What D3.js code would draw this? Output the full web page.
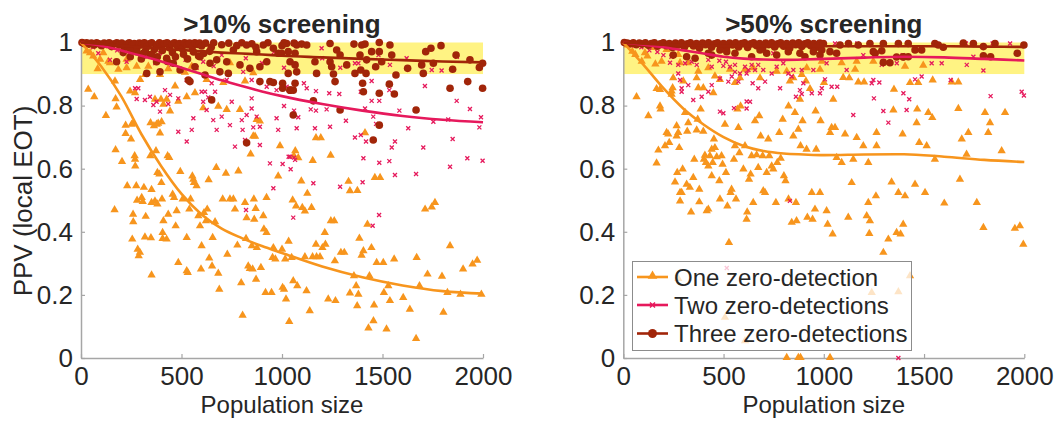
<!DOCTYPE html>
<html>
<head>
<meta charset="utf-8">
<script src="https://cdn.jsdelivr.net/npm/d3@7"></script>
<style>
body { margin: 0; background: #fff; }
text { font-family: "Liberation Sans", Arial, sans-serif; fill: #262626; }
</style>
</head>
<body>
<svg id="chart" width="1061" height="421"></svg>
<script>
// x ticks / y ticks
var xTicks = [0, 500, 1000, 1500, 2000];
var yTicks = [0, 0.2, 0.4, 0.6, 0.8, 1];
var titles = [">10% screening", ">50% screening"];
var seriesNames = ["One zero-detection", "Two zero-detections", "Three zero-detections"];

// fitted curves
var fitX = [0, 100, 200, 300, 400, 500, 600, 700, 800, 900, 1000, 1200, 1400, 1600, 1800, 2000];
var fitOne10 = [1.0, 0.925, 0.83, 0.71, 0.607, 0.52, 0.455, 0.41, 0.38, 0.355, 0.333, 0.29, 0.256, 0.23, 0.212, 0.204];
var fitTwo10 = [1.0, 0.99, 0.975, 0.958, 0.94, 0.92, 0.9, 0.88, 0.862, 0.845, 0.83, 0.805, 0.784, 0.767, 0.755, 0.747];
var fitThree10 = [1.0, 0.995, 0.99, 0.985, 0.98, 0.976, 0.972, 0.968, 0.965, 0.962, 0.958, 0.953, 0.948, 0.944, 0.94, 0.937];
var fitOne50 = [1.0, 0.93, 0.855, 0.79, 0.74, 0.7, 0.672, 0.656, 0.648, 0.645, 0.643, 0.645, 0.646, 0.638, 0.628, 0.621];
var fitTwo50 = [1.0, 0.993, 0.985, 0.975, 0.965, 0.955, 0.949, 0.946, 0.945, 0.946, 0.948, 0.952, 0.955, 0.953, 0.948, 0.943];
var fitThree50 = [1.0, 0.996, 0.993, 0.991, 0.99, 0.989, 0.988, 0.988, 0.988, 0.988, 0.988, 0.988, 0.988, 0.988, 0.987, 0.986];

// scatter, >10% screening
var one10 = [[36,0.85],[66,0.826],[124,0.767],[172,0.82],[177,0.794],[167,0.468],[172,0.658],[204,0.621],[222,0.736],[230,0.544],[222,0.71],[249,0.692],[252,0.739],[260,0.742],[259,0.454],[260,0.43],[255,0.375],[267,0.639],[269,0.628],[270,0.607],[275,0.544],[279,0.498],[282,0.343],[287,0.322],[293,0.333],[302,0.507],[307,0.494],[313,0.539],[322,0.447],[318,0.382],[345,0.639],[346,0.744],[351,0.532],[351,0.491],[348,0.379],[351,0.261],[363,0.734],[376,0.739],[384,0.742],[401,0.747],[393,0.711],[373,0.655],[380,0.586],[390,0.581],[400,0.554],[403,0.502],[368,0.496],[380,0.486],[410,0.433],[406,0.396],[406,0.377],[426,0.375],[434,0.454],[439,0.634],[431,0.639],[456,0.517],[463,0.507],[476,0.465],[471,0.417],[484,0.301],[494,0.589],[506,0.502],[531,0.269],[526,0.275],[526,0.38],[539,0.47],[545,0.502],[554,0.575],[559,0.565],[562,0.554],[575,0.544],[584,0.449],[592,0.417],[597,0.28],[600,0.354],[612,0.459],[622,0.433],[628,0.47],[635,0.563],[638,0.315],[652,0.29],[655,0.38],[673,0.602],[683,0.267],[688,0.216],[667,0.43],[705,0.502],[721,0.584],[728,0.327],[741,0.502],[758,0.502],[766,0.47],[778,0.356],[783,0.591],[797,0.237],[804,0.134],[816,0.491],[824,0.443],[821,0.377],[832,0.29],[840,0.282],[844,0.645],[850,0.354],[854,0.28],[857,0.702],[860,0.502],[862,0.438],[869,0.472],[871,0.248],[875,0.348],[895,0.285],[907,0.449],[910,0.407],[918,0.206],[923,0.507],[923,0.396],[948,0.206],[953,0.317],[957,0.348],[967,0.312],[981,0.575],[990,0.671],[1000,0.343],[1003,0.222],[1010,0.216],[1016,0.312],[1020,0.185],[1036,0.114],[1033,0.368],[1048,0.317],[1056,0.243],[1059,0.639],[1066,0.655],[1053,0.499],[1076,0.227],[1096,0.559],[1101,0.475],[1114,0.319],[1122,0.211],[1138,0.148],[1147,0.475],[1152,0.319],[1169,0.359],[1172,0.319],[1189,0.319],[1201,0.348],[1213,0.396],[1216,0.359],[1230,0.185],[1243,0.433],[1260,0.433],[1263,0.306],[1266,0.18],[1169,0.696],[1293,0.333],[1310,0.333],[1331,0.558],[1338,0.528],[1338,0.204],[1358,0.259],[1369,0.227],[1374,0.164],[1380,0.2],[1385,0.378],[1396,0.324],[1405,0.338],[1425,0.422],[1430,0.093],[1435,0.259],[1445,0.348],[1455,0.116],[1458,0.166],[1462,0.57],[1471,0.301],[1504,0.301],[1507,0.206],[1520,0.09],[1529,0.227],[1537,0.18],[1558,0.312],[1603,0.19],[1636,0.153],[1670,0.317],[1667,0.06],[1684,0.227],[1712,0.47],[1724,0.264],[1761,0.491],[1796,0.257],[1803,0.143],[1823,0.206],[1836,0.354],[1888,0.2],[1901,0.28],[1948,0.296],[1971,0.308],[1992,0.2],
    [83,0.915],[95,0.945],[136,0.939],[169,0.876],[244,0.844],[269,0.839],[294,0.881],[335,0.923],[318,0.897],[393,0.897],[434,0.915],[368,0.818],[398,0.818],[410,0.802],[426,0.818],[468,0.86],[517,0.904],[551,0.923],[567,0.839],[443,0.781],[484,0.812],[526,0.826],[608,0.791],[625,0.881],[683,0.796],[708,0.871],[725,0.786],[741,0.934],[816,0.876],[857,0.902],[791,0.786],[874,0.754],[890,0.749],[866,0.701],[28,0.971],[45,0.966],[61,0.955],[111,0.966],[144,0.934],[186,0.913],[227,0.945],[227,0.918],[277,0.923],
    [1081,0.633],[1153,0.624],[1193,0.696],[1242,0.641],[1375,0.529],[1488,0.57],[1413,0.712],[1126,0.52],[1070,0.48],[1114,0.464],[1745,0.477]];

var two10 = [[86,0.966],[144,0.945],[227,0.939],[269,0.855],[285,0.855],[277,0.821],[318,0.818],[343,0.828],[360,0.802],[376,0.812],[393,0.781],[418,0.849],[443,0.834],[434,0.805],[484,0.823],[484,0.717],[526,0.686],[551,0.723],[559,0.76],[600,0.844],[617,0.844],[608,0.812],[633,0.826],[625,0.786],[667,0.844],[658,0.754],[675,0.723],[700,0.765],[741,0.738],[750,0.812],[766,0.67],[800,0.754],[804,0.723],[816,0.691],[849,0.823],[849,0.791],[824,0.77],[874,0.765],[890,0.733],[857,0.731],[890,0.675],[940,0.617],[973,0.76],[981,0.723],[1040,0.638],[1065,0.628],[957,0.538],[526,0.881],[650,0.871],[725,0.881],[849,0.881],[924,0.86],[973,0.849],[1023,0.86],[807,0.907],[608,0.939],[294,0.966],[393,0.966],[468,0.95],[551,0.971],
    [1065,1.0],[1197,0.982],[1363,0.934],[1380,0.934],[1537,0.929],[1745,0.913],[1794,0.911],[1123,0.855],[1006,0.871],[1109,0.871],[1169,0.846],[1235,0.839],[1285,0.837],[1446,0.878],[1392,0.844],[1446,0.815],[1484,0.815],[1534,0.849],[1711,0.862],[1869,0.815],[1935,0.789],[1990,0.763],[1982,0.731],[1010,0.799],[1060,0.784],[1081,0.763],[1143,0.788],[1169,0.784],[1222,0.788],[1318,0.752],[1413,0.791],[1454,0.765],[1468,0.742],[1584,0.784],[1628,0.728],[1753,0.749],[1827,0.756],[1849,0.694],[1073,0.728],[1164,0.728],[1239,0.733],[1363,0.699],[1392,0.707],[1418,0.686],[1562,0.686],[1703,0.667],[1546,0.667],[1033,0.638],[1060,0.635],[1003,0.615],[1043,0.598],[1405,0.633],[1484,0.619],[1534,0.624],[1562,0.58],[1667,0.583],[1836,0.606],[1922,0.633],[1998,0.625],[1156,0.554],[1289,0.543],[1401,0.557],[1056,0.445],[1483,0.453],[1451,0.419],[821,0.469],
    [30,0.99],[60,0.985],[180,0.975],[330,0.955],[370,0.935],[450,0.93],[520,0.945],[575,0.92],[660,0.925],[700,0.96],[820,0.95],[900,0.935],[960,0.97],[1010,0.92],[1200,0.95],[1290,0.92],[1480,0.96],[1620,0.95],[1870,0.955]];

var three10 = [[5,1.0],[15,0.997],[28,0.999],[40,0.995],[52,0.998],[65,0.992],[78,0.999],[90,0.996],[102,0.99],[115,0.998],[128,0.994],[140,0.999],[152,0.987],[165,0.996],[178,0.999],[190,0.992],[203,0.998],[215,0.985],[228,0.995],[240,0.999],[252,0.99],[265,0.997],[278,0.982],[290,0.998],[302,0.993],[315,0.999],[327,0.986],[340,0.996],[352,0.999],[365,0.978],[377,0.993],[390,0.999],[402,0.988],[415,0.997],[428,0.999],[440,0.983],[452,0.995],[465,0.999],[478,0.99],[490,0.997],[502,0.981],[515,0.999],[528,0.992],[540,0.998],[553,0.985],[566,0.999],[578,0.994],[590,0.998],[600,0.989],
    [620,0.998],[648,0.985],[660,0.999],[700,0.993],[735,0.998],[775,0.99],[800,0.999],[850,0.996],[870,0.985],[930,0.999],[1000,0.99],[1060,0.998],
    [210,0.968],[245,0.955],[262,0.975],[300,0.948],[320,0.972],[345,0.962],[380,0.955],[405,0.975],[430,0.94],[455,0.968],[470,0.955],[510,0.963],[530,0.948],[560,0.97],[585,0.957],[610,0.965],[640,0.972],
    [177,0.939],[327,0.902],[393,0.907],[534,0.881],[542,0.876],[617,0.897],[650,0.818],[733,0.902],[824,0.682],[890,0.876],[940,0.876],[957,0.873],[1003,0.871],[1040,0.849],[1056,0.77],[890,0.923],[924,0.939],[981,0.966],[1023,0.997],[791,0.929],[840,0.918],[725,0.939],[758,0.976],[824,0.992],[874,0.971],[907,0.992],[957,0.982],[675,0.945],[691,0.907],[642,0.934],[592,0.955],[567,0.923],[493,0.913],[459,0.934],[426,0.95],[376,0.939],[352,0.96],[310,0.966],[277,0.971],[244,0.976],
    [1010,0.999],[1073,0.992],[1098,0.995],[1123,0.992],[1031,0.971],[998,0.966],[1065,0.966],[1040,0.939],[1065,0.929],[1031,0.902],[1073,0.907],[1164,0.939],[1172,0.902],[1239,0.997],[1272,0.976],[1289,0.96],[1239,0.939],[1247,0.923],[1256,0.9],[1264,0.876],[1322,0.929],[1358,0.995],[1397,0.992],[1413,0.995],[1388,0.96],[1421,0.945],[1363,0.902],[1392,0.913],[1418,0.902],[1446,0.971],[1484,1.0],[1484,0.971],[1466,0.923],[1496,0.939],[1537,0.992],[1546,0.96],[1567,0.897],[1625,0.918],[1695,0.929],[1715,0.971],[1741,0.982],[1791,0.99],[1703,0.902],[1753,0.934],[1849,0.915],[1866,0.96],[1935,0.945],[1982,0.921],[1998,0.934],[1003,0.855],[1040,0.849],[1056,0.849],[1065,0.871],[1156,0.815],[1401,0.871],[1405,0.844],[1484,0.839],[1534,0.868],[1559,0.837],[1289,0.786],[1484,0.738],[1454,0.691],[1667,0.786],[1836,0.855],[1924,0.876],[1998,0.855]];

// scatter, >50% screening
var one50 = [[66,0.826],[125,0.766],[166,0.616],[175,0.657],[166,0.852],[183,0.797],[186,0.787],[208,0.671],[216,0.713],[224,0.708],[229,0.681],[246,0.855],[241,0.834],[258,0.556],[266,0.734],[269,0.586],[266,0.702],[274,0.713],[279,0.665],[283,0.523],[283,0.496],[291,0.523],[296,0.597],[308,0.776],[316,0.549],[319,0.717],[324,0.744],[332,0.539],[338,0.461],[349,0.57],[354,0.628],[366,0.721],[371,0.755],[374,0.855],[379,0.533],[379,0.493],[386,0.787],[399,0.717],[402,0.628],[407,0.641],[412,0.618],[416,0.465],[424,0.47],[424,0.607],[432,0.639],[441,0.66],[446,0.618],[441,0.576],[449,0.839],[452,0.692],[457,0.665],[466,0.636],[479,0.56],[482,0.502],[490,0.639],[495,0.612],[507,0.739],[512,0.586],[519,0.48],[527,0.364],[535,0.523],[540,0.533],[552,0.628],[557,0.671],[562,0.502],[569,0.787],[574,0.729],[579,0.649],[585,0.797],[599,0.597],[607,0.671],[615,0.438],[618,0.461],[627,0.565],[635,0.581],[640,0.639],[648,0.491],[657,0.75],[665,0.642],[673,0.602],[678,0.766],[685,0.702],[695,0.639],[698,0.528],[707,0.523],[715,0.586],[723,0.692],[728,0.639],[740,0.607],[748,0.597],[761,0.491],[768,0.618],[778,0.713],[785,0.631],[795,0.755],[801,0.576],[809,0.56],[824,0.797],[824,0.502],[831,0.876],[840,0.428],[848,0.702],[856,0.776],[861,0.491],[864,0.433],[873,0.723],[881,0.818],[884,0.671],[894,0.75],[911,0.876],[914,0.66],[918,0.444],[931,0.852],[940,0.523],[944,0.438],[956,0.47],[959,0.781],[962,0.66],[981,0.523],[984,0.75],[1001,0.871],[1014,0.465],[1019,0.422],[1031,0.713],[1039,0.729],[1044,0.391],[1047,0.818],[1056,0.729],[1064,0.634],[1089,0.618],[1097,0.887],[1106,0.708],[1122,0.444],[1139,0.554],[1147,0.628],[1164,0.697],[1172,0.873],[1197,0.671],[1214,0.449],[1222,0.618],[1222,0.491],[1227,0.393],[1230,0.433],[1260,0.512],[1263,0.671],[1263,0.713],[1297,0.333],[1322,0.375],[1338,0.556],[1347,0.784],[1350,0.85],[1363,0.396],[1372,0.523],[1383,0.391],[1393,0.708],[1396,0.422],[1405,0.512],[1430,0.871],[1455,0.549],[1463,0.744],[1466,0.787],[1476,0.681],[1505,0.523],[1513,0.671],[1521,0.776],[1541,0.76],[1554,0.628],[1601,0.489],[1638,0.873],[1671,0.789],[1679,0.565],[1688,0.692],[1712,0.644],[1721,0.713],[1763,0.491],[1796,0.412],[1804,0.776],[1829,0.744],[1820,0.713],[1887,0.655],[1904,0.776],[1953,0.409],[1978,0.417],[1995,0.359],
    [274,0.25],[507,0.127],[1430,0.259],[1239,0.206],[1372,0.208],[607,0.053],[815,0],[873,0],[884,0],[1031,0],
    [92,0.939],[183,0.849],[191,0.939],[249,0.886],[241,0.844],[299,0.876],[324,0.934],[366,0.886],[374,0.907],[399,0.855],[424,0.918],[457,0.892],[482,0.881],[532,0.913],[557,0.871],[582,0.886],[607,0.913],[648,0.918],[682,0.886],[765,0.907],[815,0.907],[848,0.886],[890,0.897],[915,0.918],[981,0.913],[108,0.966],[150,0.982],[216,0.976],[274,0.96],[283,0.934],
    [1089,0.934],[1156,0.913],[1164,0.939],[1247,0.939],[1405,0.923],[1496,0.926],[1127,0.886],[1201,0.873],[1471,0.871],[1543,0.879],[1671,0.873],[990,0.939],
    [20,0.99],[45,0.97],[60,0.96],[120,0.955],[160,0.93]];

var two50 = [[233,0.936],[274,0.929],[308,0.934],[341,0.939],[366,0.929],[424,0.945],[441,0.923],[479,0.942],[499,0.926],[512,0.939],[532,0.923],[557,0.929],[557,0.907],[582,0.902],[607,0.923],[615,0.902],[624,0.913],[640,0.929],[657,0.913],[673,0.929],[698,0.913],[740,0.902],[748,0.966],[765,0.923],[798,0.934],[823,0.902],[848,0.913],[890,0.913],[948,0.913],[274,0.902],[283,0.881],[291,0.855],[291,0.844],[324,0.865],[349,0.818],[391,0.828],[424,0.844],[441,0.865],[482,0.781],[482,0.886],[524,0.876],[541,0.892],[574,0.876],[632,0.812],[615,0.791],[645,0.871],[673,0.855],[707,0.876],[782,0.855],[840,0.892],[861,0.828],[881,0.849],[890,0.837],[898,0.871],[940,0.839],[981,0.839],[990,0.855],
    [1006,0.883],[1039,0.86],[1067,0.86],[1114,0.913],[1197,0.96],[1239,0.871],[1247,0.881],[1277,0.873],[1289,0.929],[1364,0.934],[1397,0.839],[1426,0.82],[1455,0.883],[1488,0.892],[1538,0.934],[1588,0.934],[1633,0.881],[1713,0.929],[1796,0.911],[1832,0.83],[1987,0.844],[1998,0.832],[1250,0.823],[1297,0.783],[1147,0.77],[1413,0.786],[1322,0.746],[1056,0.997],[1014,0.934],[1167,0.997],[1393,0.96],[1709,0.997],[1842,0.997],[1929,0.997],[1746,0.955],
    [552,0.792],[499,0.776],[615,0.813],[831,0.498],[516,0.285],[1372,0],
    [40,0.99],[90,0.985],[130,0.975],[170,0.97],[200,0.96],[240,0.955]];

var three50 = [[5,1.0],[20,0.998],[35,0.996],[50,0.999],[65,0.993],[80,0.998],[95,0.995],[110,0.999],[125,0.991],[140,0.997],[155,0.999],[170,0.988],[185,0.996],[200,0.999],[215,0.99],[230,0.997],[245,0.984],[260,0.998],[275,0.992],[290,0.999],[305,0.986],[320,0.996],[335,0.999],[350,0.989],[365,0.997],[380,0.982],[395,0.998],[410,0.993],[425,0.999],[440,0.985],[455,0.996],[470,0.999],[485,0.988],[500,0.997],[515,0.983],[530,0.998],[545,0.992],[560,0.999],[575,0.986],[590,0.997],[605,0.999],[620,0.984],[635,0.996],[650,0.999],[665,0.99],[680,0.997],[695,0.982],[710,0.998],[725,0.993],[740,0.999],[755,0.986],[770,0.996],[785,0.999],[800,0.988],[815,0.997],[830,0.982],[845,0.998],[860,0.993],[875,0.999],[890,0.987],[905,0.996],[920,0.999],[935,0.99],[950,0.997],[965,0.985],[980,0.998],
    [249,0.96],[316,0.955],[358,0.95],[424,0.966],[441,0.96],[482,0.976],[516,0.971],[557,0.966],[640,0.955],[682,0.976],[715,0.966],[765,0.96],[823,0.971],[881,0.966],[906,0.955],[948,0.971],[990,0.976],
    [998,0.997],[1031,0.971],[1064,0.966],[1081,0.992],[1123,0.997],[1172,0.992],[1230,0.997],[1247,0.971],[1256,0.966],[1297,0.997],[1289,0.974],[1330,0.936],[1372,0.997],[1397,0.955],[1421,0.955],[1421,0.997],[1455,0.976],[1488,0.976],[1554,0.997],[1571,0.992],[1746,0.997],[1796,0.987],[1832,0.955],[1854,0.997],[1998,0.992],[981,0.96],[1297,0.937],[1363,0.954],[1396,0.954],[1965,0.966],[1796,0.958],[1596,0.985],[1696,0.998]];

var colOne = "#f7951d", colTwo = "#e6195c", colThree = "#a12509";
var tri = d3.symbol().type(d3.symbolTriangle).size(30);

var svg = d3.select("#chart");
var plotTop = 42.5, plotBottom = 358;

var panels = [
    {x0: 81, x1: 483, title: titles[0], one: one10, two: two10, three: three10, f1: fitOne10, f2: fitTwo10, f3: fitThree10, ylab: true},
    {x0: 623.3, x1: 1024.3, title: titles[1], one: one50, two: two50, three: three50, f1: fitOne50, f2: fitTwo50, f3: fitThree50, ylab: false}
];

panels.forEach(function(p, i) {
    var x = d3.scaleLinear().domain([0, 2000]).range([p.x0, p.x1]);
    var y = d3.scaleLinear().domain([0, 1]).range([plotBottom, plotTop]);
    var g = svg.append("g");

    // yellow band 0.9 - 1
    g.append("rect")
        .attr("x", x(0)).attr("y", y(1))
        .attr("width", x(2000) - x(0)).attr("height", y(0.9) - y(1))
        .attr("fill", "#fff383");

    // axes
    var xa = g.append("g").attr("transform", "translate(0," + plotBottom + ")")
        .call(d3.axisBottom(x).tickValues(xTicks).tickSizeInner(-4).tickSizeOuter(0).tickPadding(9)
            .tickFormat(d3.format("d")));
    var ya = g.append("g").attr("transform", "translate(" + p.x0 + ",0)")
        .call(d3.axisLeft(y).tickValues(yTicks).tickSizeInner(-4).tickSizeOuter(0).tickPadding(8)
            .tickFormat(d3.format("")));
    [xa, ya].forEach(function(a) {
        a.select(".domain").attr("stroke", "#a6a6a6").attr("stroke-width", 1.5);
        a.selectAll(".tick line").attr("stroke", "#a6a6a6").attr("stroke-width", 1.2);
        a.selectAll(".tick text").attr("font-size", 26).attr("fill", "#262626")
            .attr("font-family", "Liberation Sans, Arial, sans-serif");
    });

    // scatter
    g.append("g").selectAll("path").data(p.one).enter().append("path")
        .attr("d", tri)
        .attr("transform", d => "translate(" + x(d[0]) + "," + (y(d[1]) - 0.5) + ")")
        .attr("fill", colOne);
    g.append("g").selectAll("path").data(p.two).enter().append("path")
        .attr("d", "M-2,-2L2,2M-2,2L2,-2")
        .attr("transform", d => "translate(" + x(d[0]) + "," + y(d[1]) + ")")
        .attr("stroke", colTwo).attr("stroke-width", 1.3).attr("fill", "none");
    g.append("g").selectAll("circle").data(p.three).enter().append("circle")
        .attr("cx", d => x(d[0])).attr("cy", d => y(d[1])).attr("r", 3.8)
        .attr("fill", colThree);

    // fitted lines
    var line = d3.line().x((d, k) => x(fitX[k])).y(d => y(d)).curve(d3.curveMonotoneX);
    [[p.f1, colOne], [p.f2, colTwo], [p.f3, colThree]].forEach(function(f) {
        g.append("path").attr("d", line(f[0]))
            .attr("fill", "none").attr("stroke", f[1]).attr("stroke-width", 2.6);
    });

    // title
    g.append("text")
        .attr("x", (p.x0 + p.x1) / 2).attr("y", 33)
        .attr("text-anchor", "middle").attr("font-size", 26).attr("font-weight", "bold")
        .attr("fill", "#000").text(p.title);

    g.append("text")
        .attr("x", (p.x0 + p.x1) / 2).attr("y", 413)
        .attr("text-anchor", "middle").attr("font-size", 24)
        .text("Population size");

    if (p.ylab) {
        g.append("text")
            .attr("transform", "translate(32,201) rotate(-90)")
            .attr("text-anchor", "middle").attr("font-size", 26)
            .text("PPV (local EOT)");
    }

    if (i === 1) {
        var lg = g.append("g");
        lg.append("rect")
            .attr("x", 632.5).attr("y", 261.5).attr("width", 279).attr("height", 89)
            .attr("fill", "#fff").attr("fill-opacity", 0.75)
            .attr("stroke", "#8c8c8c").attr("stroke-width", 1);
        var rows = [277, 305, 333.5];
        var cols = [colOne, colTwo, colThree];
        seriesNames.forEach(function(name, k) {
            var ry = rows[k];
            lg.append("line").attr("x1", 637).attr("x2", 668).attr("y1", ry).attr("y2", ry)
                .attr("stroke", cols[k]).attr("stroke-width", 2.6);
            if (k === 0) {
                lg.append("path").attr("d", d3.symbol().type(d3.symbolTriangle).size(40))
                    .attr("transform", "translate(652.5," + (ry - 1) + ")").attr("fill", cols[k]);
            } else if (k === 1) {
                lg.append("path").attr("d", "M-2.5,-2.5L2.5,2.5M-2.5,2.5L2.5,-2.5")
                    .attr("transform", "translate(652.5," + ry + ")")
                    .attr("stroke", cols[k]).attr("stroke-width", 1.5);
            } else {
                lg.append("circle").attr("cx", 652.5).attr("cy", ry).attr("r", 4.5).attr("fill", cols[k]);
            }
            lg.append("text").attr("x", 674).attr("y", ry + 8.5)
                .attr("font-size", 24).attr("fill", "#000").text(name);
        });
    }
});
</script>
</body>
</html>
